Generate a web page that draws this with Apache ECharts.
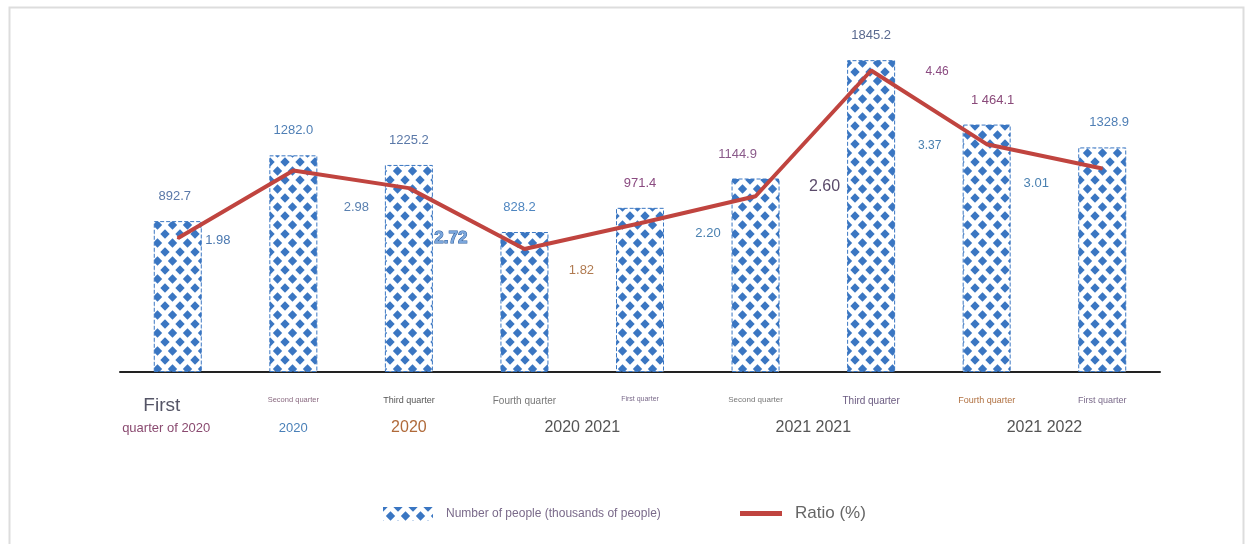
<!DOCTYPE html>
<html>
<head>
<meta charset="utf-8">
<script src="https://cdn.jsdelivr.net/npm/echarts@6/dist/echarts.min.js"></script>
<style>
html,body{margin:0;padding:0;background:#fff;}
#chart{width:1245px;height:544px;}
</style>
</head>
<body>
<div id="chart"></div>
<script>
// ---- data ----
const quarters = ['First','Second quarter','Third quarter','Fourth quarter','First quarter','Second quarter','Third quarter','Fourth quarter','First quarter'];
const people = [892.7, 1282.0, 1225.2, 828.2, 971.4, 1144.9, 1845.2, 1464.1, 1328.9];
const peopleText = ['892.7','1282.0','1225.2','828.2','971.4','1144.9','1845.2','1 464.1','1328.9'];
const ratio = [1.98, 2.98, 2.72, 1.82, 2.20, 2.60, 4.46, 3.37, 3.01];
const yearLabels = ['quarter of 2020','2020','2020','2020 2021','2021 2021','2021 2022'];
const yearSlots = [0.8, 3, 5, 8, 12, 16];
const seriesNames = ['Number of people (thousands of people)', 'Ratio (%)'];

// ---- styles (not data) ----
const FONT = 'Liberation Sans, Arial, sans-serif';
const BLUE = '#3a76c2';
const barLabelColors = ['#5a78a8','#4f7fb5','#5a78a8','#4f86c0','#8a4a80','#8a5a8a','#5a6a90','#8a4a7a','#4f7fb5'];
const barLabelOffsets = [[-3,0],[0,0],[0,0],[-5,0],[0,0],[-18,0],[0,0],[6,0],[7,0]];
const ratioLabelOffsets = [[40,2],[63,37],[42,50],[57,21],[68,10],[69,-10],[66,1],[-57,1],[-66,15]];
const ratioLabelStyles = [
  {color:'#4a78b0', fontSize:13},
  {color:'#5a80b0', fontSize:13},
  {color:'#7aa6dc', fontSize:17, fontWeight:'bold', textBorderColor:'#2a5a9a', textBorderWidth:1},
  {color:'#b07a50', fontSize:13},
  {color:'#4a80b0', fontSize:13},
  {color:'#5a4a6a', fontSize:16},
  {color:'#8a4a80', fontSize:12},
  {color:'#4a80b0', fontSize:12},
  {color:'#4a80b0', fontSize:13}
];
const quarterRich = {
  r0:{fontSize:19, color:'#555566', fontFamily:FONT, padding:[0,32,0,0]},
  r1:{fontSize:7.5, color:'#8a6a80', fontFamily:FONT},
  r2:{fontSize:9, color:'#555555', fontFamily:FONT},
  r3:{fontSize:10, color:'#777777', fontFamily:FONT},
  r4:{fontSize:7, color:'#7a6a8a', fontFamily:FONT},
  r5:{fontSize:8, color:'#777777', fontFamily:FONT},
  r6:{fontSize:10, color:'#6a5a80', fontFamily:FONT},
  r7:{fontSize:9, color:'#b07040', fontFamily:FONT},
  r8:{fontSize:9, color:'#7a6a8a', fontFamily:FONT}
};
const yearRich = {
  y0:{fontSize:13, color:'#8a4a70', fontFamily:FONT, padding:[2,0,0,0]},
  y1:{fontSize:13, color:'#4a80b8', fontFamily:FONT, padding:[2,0,0,0]},
  y2:{fontSize:16, color:'#b06a3a', fontFamily:FONT},
  y3:{fontSize:16, color:'#555555', fontFamily:FONT},
  y4:{fontSize:16, color:'#555555', fontFamily:FONT},
  y5:{fontSize:16, color:'#555555', fontFamily:FONT}
};

function makePattern(){
  const c = document.createElement('canvas');
  c.width = 15; c.height = 18;
  const g = c.getContext('2d');
  g.fillStyle = '#ffffff';
  g.fillRect(0,0,15,18);
  g.fillStyle = BLUE;
  const d = (cx, cy) => {
    g.beginPath();
    g.moveTo(cx, cy-4.7); g.lineTo(cx+4.7, cy); g.lineTo(cx, cy+4.7); g.lineTo(cx-4.7, cy);
    g.closePath(); g.fill();
  };
  d(7.5, 9); d(0,0); d(15,0); d(0,18); d(15,18);
  return c;
}
const pattern = {image: makePattern(), repeat: 'repeat'};

const chart = echarts.init(document.getElementById('chart'), null, {renderer:'canvas'});
const option = {
  backgroundColor:'#ffffff',
  animation:false,
  textStyle:{fontFamily:FONT},
  graphic:[{
    type:'rect', left:7, top:5, silent:true,
    shape:{width:1234, height:600},
    style:{fill:'none', stroke:'#dddddd', lineWidth:2}
  }],
  legend:[
    {data:[{name:seriesNames[0], icon:'rect'}], left:378, top:502, itemWidth:50, itemHeight:14, itemGap:10,
     itemStyle:{borderWidth:0},
     textStyle:{fontSize:12, color:'#7a6a8a', fontFamily:FONT, padding:[0,0,0,8]}},
    {data:[{name:seriesNames[1], icon:'rect'}], left:735, top:500, itemWidth:42, itemHeight:5,
     textStyle:{fontSize:17, color:'#666666', fontFamily:FONT, padding:[0,0,0,8]}}
  ],
  grid:{left:120, right:85, top:34, bottom:172, containLabel:false},
  xAxis:[
    {type:'category', data:quarters, gridIndex:0,
     axisLine:{show:true, lineStyle:{color:'#222222', width:2}},
     axisTick:{show:false},
     axisLabel:{interval:0, margin:24, formatter:(v,i)=>'{r'+i+'|'+v+'}', rich:quarterRich}},
    {type:'value', gridIndex:0, min:0, max:18, interval:0.2, position:'bottom',
     axisLine:{show:false}, axisTick:{show:false}, splitLine:{show:false},
     axisLabel:{show:true, margin:48, showMinLabel:true, showMaxLabel:true,
       formatter:(v)=>{
         for (let k=0;k<yearSlots.length;k++){ if (Math.abs(yearSlots[k]-v)<0.01) return '{y'+k+'|'+yearLabels[k]+'}'; }
         return '';
       }, rich:yearRich}}
  ],
  yAxis:[
    {type:'value', min:0, max:2000, show:false, splitLine:{show:false}},
    {type:'value', min:0, max:5, show:false, splitLine:{show:false}}
  ],
  series:[
    {name:seriesNames[0], type:'bar', xAxisIndex:0, yAxisIndex:0, barWidth:48,
     itemStyle:{color:pattern, borderColor:BLUE, borderWidth:1, borderType:'dashed'},
     data: people.map((v,i)=>({value:v,
       label:{show:true, position:'top', distance:18, offset:barLabelOffsets[i],
              formatter:peopleText[i], fontSize:13, color:barLabelColors[i], fontFamily:FONT}}))},
    {name:seriesNames[1], type:'line', xAxisIndex:0, yAxisIndex:1, symbol:'circle', symbolSize:2, showSymbol:true,
     lineStyle:{color:'#c0443f', width:4}, itemStyle:{color:'#c0443f'}, z:5,
     data: ratio.map((v,i)=>({value:v,
       label:Object.assign({show:true, position:'inside', offset:ratioLabelOffsets[i],
              formatter:v.toFixed(2), fontFamily:FONT}, ratioLabelStyles[i])}))}
  ]
};
chart.setOption(option);
</script>
</body>
</html>
